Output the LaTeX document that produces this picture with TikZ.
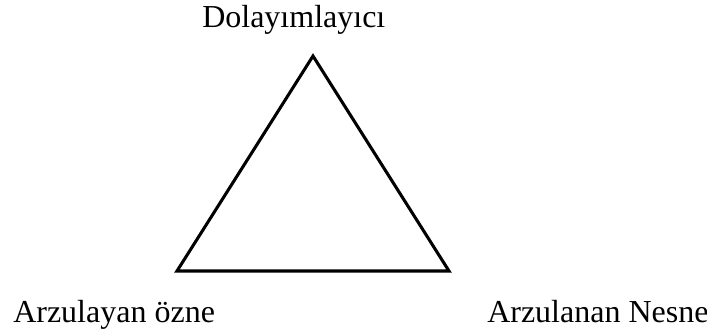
\documentclass[tikz,border=0pt]{standalone}
\usepackage{fontspec}
\setmainfont{Liberation Serif}
\usetikzlibrary{positioning}
\tikzstyle{label} = [inner sep=0pt, font=\fontsize{24}{28}\selectfont]
\tikzstyle{corner} = [inner sep=0pt, minimum size=0pt]

\begin{document}
\begin{tikzpicture}[x=0.75pt, y=-0.75pt]
\useasboundingbox (0,0) rectangle (707,333);

% Corners of the triangle
\coordinate (top) at (313,56);
\coordinate (left) at (177,271);
\coordinate (right) at (449,271);

% Triangle
\draw[line width=2.3pt] (top) -- (left) -- (right) -- cycle;

% Labels
\node[label, anchor=base west] (mediator) at (202,27) {Dolayımlayıcı};
\node[label, anchor=base west] (subject) at (13,322) {Arzulayan özne};
\node[label, anchor=base west] (object) at (487,322) {Arzulanan Nesne};

\end{tikzpicture}
\end{document}
